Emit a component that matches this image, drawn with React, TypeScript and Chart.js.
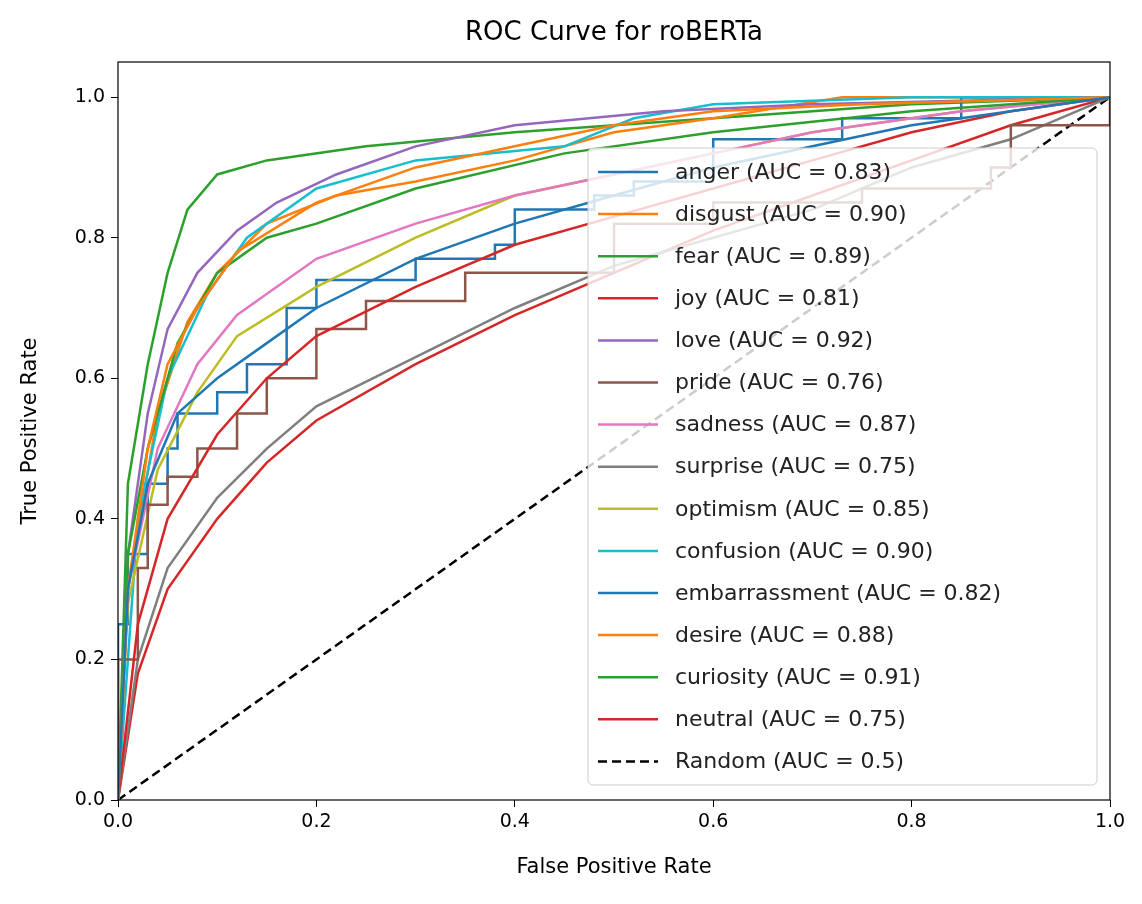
import { useEffect, useRef } from 'react';
import { Chart, registerables } from 'chart.js';

Chart.register(...registerables);

// [FPR, TPR] points
const anger = [[0,0],[0.01,0.3],[0.03,0.45],[0.06,0.55],[0.1,0.6],[0.15,0.65],[0.2,0.7],[0.3,0.77],[0.4,0.82],[0.5,0.86],[0.6,0.9],[0.7,0.93],[0.8,0.96],[0.9,0.98],[1,1]];
const disgust = [[0,0],[0.01,0.3],[0.03,0.5],[0.05,0.62],[0.08,0.7],[0.12,0.78],[0.2,0.85],[0.3,0.9],[0.4,0.93],[0.5,0.96],[0.6,0.98],[0.75,0.99],[1,1]];
const fear = [[0,0],[0.01,0.35],[0.03,0.5],[0.06,0.65],[0.1,0.75],[0.15,0.8],[0.2,0.82],[0.3,0.87],[0.45,0.92],[0.6,0.95],[0.8,0.98],[1,1]];
const joy = [[0,0],[0.02,0.25],[0.05,0.4],[0.1,0.52],[0.15,0.6],[0.2,0.66],[0.3,0.73],[0.4,0.79],[0.5,0.83],[0.6,0.87],[0.7,0.91],[0.8,0.95],[0.9,0.98],[1,1]];
const love = [[0,0],[0.01,0.35],[0.03,0.55],[0.05,0.67],[0.08,0.75],[0.12,0.81],[0.16,0.85],[0.22,0.89],[0.3,0.93],[0.4,0.96],[0.55,0.98],[0.7,0.99],[1,1]];
const pride = [[0,0],[0,0.2],[0.02,0.33],[0.03,0.42],[0.05,0.46],[0.08,0.5],[0.12,0.55],[0.15,0.6],[0.2,0.67],[0.25,0.71],[0.35,0.75],[0.5,0.82],[0.6,0.85],[0.75,0.87],[0.88,0.9],[0.9,0.96],[1,1]];
const sadness = [[0,0],[0.01,0.3],[0.04,0.5],[0.08,0.62],[0.12,0.69],[0.2,0.77],[0.3,0.82],[0.4,0.86],[0.5,0.89],[0.6,0.92],[0.7,0.95],[0.85,0.98],[1,1]];
const surprise = [[0,0],[0.02,0.2],[0.05,0.33],[0.1,0.43],[0.15,0.5],[0.2,0.56],[0.3,0.63],[0.4,0.7],[0.5,0.76],[0.6,0.8],[0.7,0.84],[0.8,0.9],[0.9,0.94],[1,1]];
const optimism = [[0,0],[0.01,0.28],[0.04,0.47],[0.08,0.58],[0.12,0.66],[0.2,0.73],[0.3,0.8],[0.4,0.86],[0.5,0.89],[0.6,0.92],[0.7,0.95],[0.85,0.98],[1,1]];
const confusion = [[0,0],[0.02,0.4],[0.05,0.6],[0.09,0.72],[0.13,0.8],[0.2,0.87],[0.3,0.91],[0.45,0.93],[0.52,0.97],[0.6,0.99],[0.8,1],[1,1]];
const embarrassment = [[0,0],[0,0.25],[0.01,0.35],[0.03,0.45],[0.05,0.5],[0.06,0.55],[0.1,0.58],[0.13,0.62],[0.17,0.7],[0.2,0.74],[0.3,0.77],[0.38,0.79],[0.4,0.84],[0.48,0.86],[0.52,0.88],[0.6,0.94],[0.73,0.97],[0.85,1],[1,1]];
const desire = [[0,0],[0.01,0.3],[0.04,0.55],[0.07,0.68],[0.1,0.75],[0.15,0.82],[0.22,0.86],[0.3,0.88],[0.4,0.91],[0.5,0.95],[0.6,0.97],[0.73,1],[1,1]];
const curiosity = [[0,0],[0.01,0.45],[0.03,0.62],[0.05,0.75],[0.07,0.84],[0.1,0.89],[0.15,0.91],[0.25,0.93],[0.4,0.95],[0.6,0.97],[0.8,0.99],[1,1]];
const neutral = [[0,0],[0.02,0.18],[0.05,0.3],[0.1,0.4],[0.15,0.48],[0.2,0.54],[0.3,0.62],[0.4,0.69],[0.5,0.75],[0.6,0.81],[0.7,0.86],[0.8,0.91],[0.9,0.96],[1,1]];
const randomLine = [[0,0],[1,1]];

const classNames = ['anger','disgust','fear','joy','love','pride','sadness','surprise','optimism','confusion','embarrassment','desire','curiosity','neutral'];
const classCurves = [anger,disgust,fear,joy,love,pride,sadness,surprise,optimism,confusion,embarrassment,desire,curiosity,neutral];
const aucValues = ['0.83','0.90','0.89','0.81','0.92','0.76','0.87','0.75','0.85','0.90','0.82','0.88','0.91','0.75'];
const steppedClasses = ['pride','embarrassment'];
const palette = ['#1f77b4','#ff7f0e','#2ca02c','#d62728','#9467bd','#8c564b','#e377c2','#7f7f7f','#bcbd22','#17becf'];

const FONT = "'DejaVu Sans', sans-serif";

const App = () => {
    const chartRef = useRef<HTMLCanvasElement | null>(null);

    useEffect(() => {
        document.body.style.margin = '0';
        const ctx = chartRef.current?.getContext('2d');
        if (!ctx) return;

        const datasets: any[] = classNames.map((name, i) => ({
            label: `${name} (AUC = ${aucValues[i]})`,
            data: classCurves[i].map(([x, y]) => ({ x, y })),
            borderColor: palette[i % 10],
            borderWidth: 2.5,
            pointRadius: 0,
            showLine: true,
            stepped: steppedClasses.includes(name) ? 'before' : false,
            fill: false,
        }));
        datasets.push({
            label: 'Random (AUC = 0.5)',
            data: randomLine.map(([x, y]) => ({ x, y })),
            borderColor: '#000',
            borderWidth: 2.5,
            borderDash: [9, 5],
            pointRadius: 0,
            showLine: true,
        });

        const frame = {
            id: 'frame',
            afterDraw(chart: any) {
                const { ctx: c, chartArea: a } = chart;
                c.save();
                c.strokeStyle = '#000';
                c.lineWidth = 1.2;
                c.strokeRect(a.left, a.top, a.right - a.left, a.bottom - a.top);
                // title
                c.fillStyle = '#000';
                c.font = `26px ${FONT}`;
                c.textAlign = 'center';
                c.textBaseline = 'middle';
                c.fillText('ROC Curve for roBERTa', (a.left + a.right) / 2, 33);
                // legend
                const bx = 588, by = 148, bw = 509, bh = 637;
                c.fillStyle = 'rgba(255,255,255,0.8)';
                c.strokeStyle = '#cccccc';
                c.lineWidth = 1;
                c.beginPath();
                c.roundRect(bx, by, bw, bh, 5);
                c.fill();
                c.stroke();
                c.font = `22px ${FONT}`;
                c.textAlign = 'left';
                chart.data.datasets.forEach((ds: any, i: number) => {
                    const y = 172 + i * 42.1;
                    c.strokeStyle = ds.borderColor;
                    c.lineWidth = 2.5;
                    c.setLineDash(ds.borderDash || []);
                    c.beginPath();
                    c.moveTo(598, y);
                    c.lineTo(658, y);
                    c.stroke();
                    c.setLineDash([]);
                    c.fillStyle = '#222';
                    c.fillText(ds.label, 675, y + 1);
                });
                c.restore();
            },
        };

        const tickOpts = { color: '#000', font: { family: FONT, size: 19 }, callback: (v: any) => Number(v).toFixed(1) };
        const gridOpts = { display: true, drawOnChartArea: false, drawTicks: true, tickLength: 7, color: '#000' };
        const keepSteps = (s: any) => { s.ticks = s.ticks.filter((t: any) => Math.abs(t.value * 5 - Math.round(t.value * 5)) < 1e-6); };

        const myChart = new Chart(ctx, {
            type: 'scatter',
            data: { datasets },
            options: {
                responsive: false,
                animation: false,
                layout: { padding: { top: 62, right: 32, left: 14, bottom: 20 } },
                plugins: { legend: { display: false }, tooltip: { enabled: false }, title: { display: false } },
                scales: {
                    x: {
                        type: 'linear', min: 0, max: 1,
                        ticks: { ...tickOpts, stepSize: 0.2, padding: 4 },
                        grid: gridOpts,
                        border: { display: false },
                        title: { display: true, text: 'False Positive Rate', color: '#000', font: { family: FONT, size: 21 }, padding: { top: 8 } },
                        afterBuildTicks: keepSteps,
                        afterFit: (s: any) => { s.height = 84; },
                    },
                    y: {
                        type: 'linear', min: 0, max: 1.05,
                        ticks: { ...tickOpts, stepSize: 0.2, padding: 6 },
                        grid: gridOpts,
                        border: { display: false },
                        title: { display: true, text: 'True Positive Rate', color: '#000', font: { family: FONT, size: 21 }, padding: { bottom: 4 } },
                        afterBuildTicks: keepSteps,
                        afterFit: (s: any) => { s.width = 104; },
                    },
                },
            },
            plugins: [frame],
        } as any);

        return () => {
            myChart.destroy();
        };
    }, []);

    return (
        <div style={{ width: 1142, height: 904, background: '#fff' }}>
            <canvas ref={chartRef} width={1142} height={904} />
        </div>
    );
};

export default App;
